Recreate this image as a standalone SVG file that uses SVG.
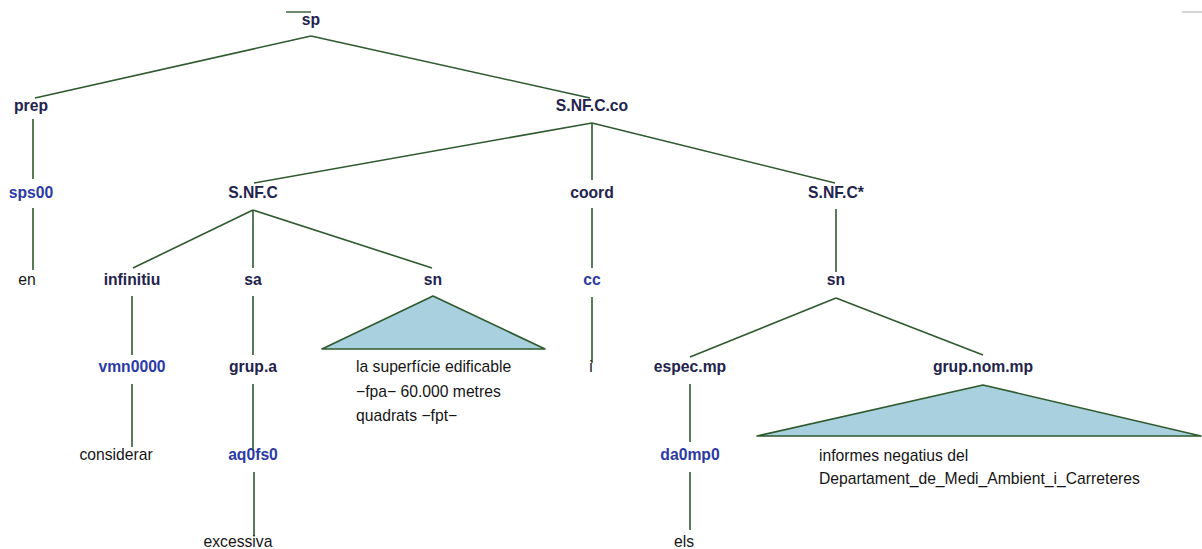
<svg xmlns="http://www.w3.org/2000/svg" width="1202" height="549" viewBox="0 0 1202 549">
<style>
text{font-family:"Liberation Sans",Arial,sans-serif;font-size:15.7px;text-anchor:middle}
.c{font-weight:bold;fill:#23234d}
.p{font-weight:bold;fill:#2b3aa6}
.w{fill:#151515}
.t{text-anchor:start;fill:#151515}
#connectors line{stroke:#2e5a2e;stroke-width:1.6}
.tri{fill:#a9d0de;stroke:#2e5a2e;stroke-width:1.6;stroke-linejoin:round}
</style>
<rect width="1202" height="549" fill="#fff"/>
<line x1="286" y1="12" x2="311" y2="12" stroke="#2e5a2e" stroke-width="1.4"/>
<line x1="1182" y1="12" x2="1202" y2="12" stroke="#c8c8c8" stroke-width="1.6"/>
<g id="connectors">
<line x1="311" y1="36" x2="35" y2="98"/>
<line x1="311" y1="36" x2="590" y2="98"/>
<line x1="33" y1="119" x2="33" y2="179"/>
<line x1="33" y1="208" x2="33" y2="270"/>
<line x1="592" y1="123" x2="254" y2="183"/>
<line x1="592" y1="123" x2="592" y2="180"/>
<line x1="592" y1="123" x2="835" y2="183"/>
<line x1="253" y1="210" x2="133" y2="268"/>
<line x1="253" y1="210" x2="253" y2="268"/>
<line x1="253" y1="210" x2="432" y2="268"/>
<line x1="592" y1="208" x2="592" y2="268"/>
<line x1="836" y1="209" x2="836" y2="272"/>
<line x1="132" y1="296" x2="132" y2="355"/>
<line x1="253" y1="296" x2="253" y2="355"/>
<line x1="592" y1="297" x2="592" y2="363"/>
<line x1="836" y1="298" x2="690" y2="357"/>
<line x1="836" y1="298" x2="983" y2="355"/>
<line x1="132" y1="384" x2="132" y2="447"/>
<line x1="253" y1="384" x2="253" y2="450"/>
<line x1="690" y1="384" x2="690" y2="442"/>
<line x1="254" y1="472" x2="254" y2="536"/>
<line x1="690" y1="472" x2="690" y2="530"/>
</g>
<g id="n-sp"><text class="c" x="311" y="25">sp</text></g>
<g id="n-prep"><text class="c" x="31" y="111">prep</text></g>
<g id="n-snfcco"><text class="c" x="592" y="111">S.NF.C.co</text></g>
<g id="n-sps00"><text class="p" x="31" y="198">sps00</text></g>
<g id="n-snfc"><text class="c" x="253" y="198">S.NF.C</text></g>
<g id="n-coord"><text class="c" x="592" y="198">coord</text></g>
<g id="n-snfcstar"><text class="c" x="836" y="198">S.NF.C*</text></g>
<g id="n-en"><text class="w" x="27" y="285">en</text></g>
<g id="n-infinitiu"><text class="c" x="132" y="285">infinitiu</text></g>
<g id="n-sa"><text class="c" x="253" y="285">sa</text></g>
<g id="n-sn1"><text class="c" x="433" y="285">sn</text></g>
<g id="n-cc"><text class="p" x="592" y="285">cc</text></g>
<g id="n-sn2"><text class="c" x="836" y="285">sn</text></g>
<g id="n-tri1">
<polygon class="tri" points="433,296 322,349 545,349"/>
<text class="t" x="356" y="372">la superfície edificable</text>
<text class="t" x="356" y="397">−fpa− 60.000 metres</text>
<text class="t" x="356" y="421">quadrats −fpt−</text>
</g>
<g id="n-vmn0000"><text class="p" x="132" y="372">vmn0000</text></g>
<g id="n-grupa"><text class="c" x="253" y="372">grup.a</text></g>
<g id="n-i"><text class="w" x="591" y="372">i</text></g>
<g id="n-specmp"><text class="c" x="690" y="372">espec.mp</text></g>
<g id="n-grupnommp"><text class="c" x="983" y="372">grup.nom.mp</text></g>
<g id="n-tri2">
<polygon class="tri" points="983,385 757,436 1201,436"/>
<text class="t" x="819" y="461">informes negatius del</text>
<text class="t" x="819" y="484">Departament_de_Medi_Ambient_i_Carreteres</text>
</g>
<g id="n-considerar"><text class="w" x="116" y="460">considerar</text></g>
<g id="n-aq0fs0"><text class="p" x="253" y="460">aq0fs0</text></g>
<g id="n-da0mp0"><text class="p" x="690" y="460">da0mp0</text></g>
<g id="n-excessiva"><text class="w" x="238" y="547">excessiva</text></g>
<g id="n-els"><text class="w" x="684" y="547">els</text></g>
</svg>
